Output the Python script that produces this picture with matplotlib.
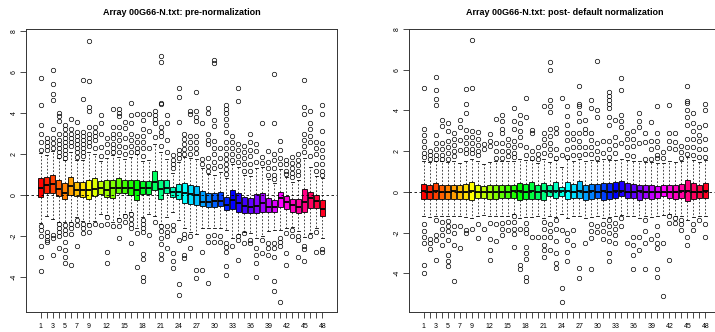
import numpy as np
import matplotlib.pyplot as plt
from matplotlib.colors import hsv_to_rgb

plt.rcParams['font.family'] = ['Liberation Sans', 'DejaVu Sans']

# data (48 arrays each)
# -------------------------------------------------------------------------------------
arrays = np.arange(1, 49)
shown_labels = [1, 3, 5, 7, 9, 12, 15, 18, 21, 24, 27, 30, 33, 36, 39, 42, 45, 48]

pre_q1 = [-0.08, 0.11, 0.11, -0.05, -0.19, 0.0, -0.03, -0.08, -0.21, -0.03, 0.05, -0.08,
          -0.13, 0.08, 0.08, 0.0, -0.24, 0.05, 0.05, 0.24, -0.21, 0.08, -0.08, -0.21,
          -0.37, -0.44, -0.49, -0.53, -0.6, -0.57, -0.53, -0.73, -0.7, -0.81, -0.86, -0.89,
          -0.89, -0.81, -0.81, -0.81, -0.6, -0.7, -0.81, -0.89, -0.81, -0.65, -0.65, -1.0]
pre_med = [0.35, 0.49, 0.54, 0.3, 0.11, 0.44, 0.24, 0.24, 0.27, 0.32, 0.37, 0.27,
           0.35, 0.37, 0.37, 0.37, 0.24, 0.37, 0.37, 0.65, 0.32, 0.37, 0.16, 0.15,
           0.11, 0.03, 0.0, -0.32, -0.32, -0.28, -0.28, -0.49, -0.24, -0.37, -0.53, -0.6,
           -0.53, -0.37, -0.6, -0.6, -0.16, -0.32, -0.49, -0.57, -0.32, -0.16, -0.29, -0.7]
pre_q3 = [0.84, 0.89, 1.0, 0.73, 0.57, 0.86, 0.65, 0.65, 0.76, 0.84, 0.7, 0.73,
          0.73, 0.84, 0.76, 0.76, 0.73, 0.7, 0.7, 1.18, 0.73, 0.76, 0.4, 0.54,
          0.57, 0.49, 0.44, 0.21, 0.08, 0.08, 0.16, -0.08, 0.24, 0.08, -0.08, -0.13,
          0.03, 0.08, -0.16, -0.24, 0.16, -0.05, -0.21, -0.21, 0.29, 0.16, 0.0, -0.26]
pre_lo = [-1.35, -1.0, -1.15, -1.3, -1.3, -1.3, -1.05, -1.25, -1.35, -1.25, -0.9, -0.95,
          -1.3, -1.1, -0.9, -0.8, -1.6, -1.05, -0.9, -1.0, -1.4, -1.05, -0.8, -1.2,
          -1.6, -1.8, -1.9, -1.6, -1.6, -1.6, -1.6, -1.7, -2.1, -1.9, -1.8, -1.85,
          -2.1, -2.0, -1.75, -1.7, -1.7, -1.6, -1.55, -1.75, -2.05, -1.85, -1.6, -2.1]
pre_hi = [2.05, 1.95, 2.15, 1.8, 1.7, 2.1, 1.7, 1.7, 2.1, 2.0, 1.65, 1.8,
          1.95, 1.85, 1.75, 1.85, 2.0, 1.65, 1.7, 2.5, 2.1, 1.75, 1.1, 1.6,
          1.85, 1.8, 1.75, 1.3, 1.05, 1.0, 1.15, 0.85, 1.5, 1.35, 1.0, 0.95,
          1.3, 1.35, 0.8, 0.6, 1.25, 0.9, 0.65, 0.75, 1.8, 1.35, 0.95, 0.85]
pre_out_hi = [
    [5.7, 4.4, 3.4, 3.0, 2.6, 2.2], [2.8, 2.6, 2.4, 2.2],
    [6.1, 5.4, 4.95, 4.65, 3.2, 2.8, 2.55, 2.3], [4.0, 3.85, 3.6, 3.0, 2.7, 2.5, 2.3, 2.1, 1.9],
    [3.4, 3.2, 3.0, 2.8, 2.6, 2.4, 2.2, 2.0, 1.8], [3.7, 3.2, 3.0, 2.8, 2.6, 2.4],
    [3.55, 3.1, 2.9, 2.7, 2.5, 2.3, 2.1, 1.85], [5.6, 4.7, 3.1, 2.9, 2.7, 2.5, 2.3, 2.1, 1.9],
    [7.5, 5.55, 4.3, 4.1, 3.3, 3.0, 2.8, 2.6, 2.4], [3.3, 3.1, 2.9, 2.7, 2.3],
    [3.9, 3.5, 3.0, 2.35, 1.9], [2.8, 2.5, 2.1],
    [4.2, 3.3, 3.0, 2.8, 2.5, 2.3, 2.1], [4.2, 4.0, 3.85, 3.3, 3.0, 2.7, 2.4, 2.1],
    [3.55, 3.25, 2.8, 2.35, 2.0], [4.5, 3.9, 3.5, 3.0, 2.7, 2.4, 2.1],
    [3.95, 2.9, 2.6, 2.3, 2.1], [3.95, 3.65, 3.2, 2.9, 2.6, 2.3, 1.9],
    [3.95, 3.15, 2.3], [4.1, 3.9, 3.7, 3.5, 2.85],
    [6.8, 6.5, 4.5, 4.45, 3.3, 3.1, 2.9, 2.4], [3.9, 3.5, 2.7, 2.1],
    [1.95, 1.7, 1.5, 1.3], [5.2, 4.8, 3.55, 2.2, 2.0, 1.8],
    [3.0, 2.75, 2.5, 2.25, 2.0], [4.1, 3.95, 2.9, 2.6, 2.3, 2.0],
    [5.05, 4.1, 3.8, 3.6, 2.9, 2.6, 2.3, 2.05], [3.5, 1.75, 1.5],
    [4.25, 4.0, 3.0, 2.7, 2.5, 1.8, 1.4, 1.2], [6.6, 6.45, 3.65, 3.35, 2.65, 2.3, 2.0, 1.6, 1.3],
    [2.3, 1.8, 1.4], [4.4, 4.2, 4.0, 3.7, 3.4, 3.1, 2.6, 2.3, 2.0, 1.75, 1.5, 1.25, 1.05],
    [2.9, 2.6, 2.3, 2.0, 1.7], [5.2, 4.6, 2.5, 2.2, 1.9, 1.6],
    [2.4, 2.1, 1.8, 1.5, 1.2], [3.0, 2.6, 2.2, 1.9, 1.5, 1.2],
    [2.5, 2.15, 1.6], [3.5, 1.85, 1.55],
    [2.15, 1.6, 1.3, 1.0], [5.9, 3.5, 2.0, 1.7, 1.3, 1.0, 0.8],
    [2.65, 2.2, 1.8, 1.5], [1.7, 1.5, 1.2, 1.05],
    [1.85, 1.55, 1.3, 1.1, 0.9], [2.0, 1.7, 1.45, 1.2, 1.0],
    [5.6, 4.3, 3.95, 3.0, 2.7, 2.4, 2.1], [4.1, 3.5, 3.2, 2.9, 2.6, 1.9],
    [2.6, 2.3, 2.0, 1.5, 1.2], [4.4, 3.95, 3.15, 2.55, 2.2, 1.85, 1.5, 1.2, 1.0]]
pre_out_lo = [
    [-1.5, -1.7, -2.0, -2.5, -3.0, -3.7], [-1.8, -2.0, -2.2, -2.3], [-1.95, -2.1, -2.9],
    [-1.4, -1.6, -1.8, -2.0, -2.6], [-1.45, -1.7, -1.9, -2.3, -2.7, -3.0, -3.3],
    [-1.4, -1.6, -1.9, -3.4], [-1.2, -1.45, -2.5], [-1.4, -1.6, -1.85], [-1.45, -1.8],
    [-1.4], [-1.45], [-1.05, -1.4, -2.75, -3.3], [-1.5], [-1.2, -1.5, -2.1], [-1.0, -1.3],
    [-0.9, -1.15, -1.4, -1.6, -2.35], [-1.85, -3.5],
    [-1.2, -1.4, -1.6, -1.8, -2.85, -3.1, -4.0, -4.2], [-1.95], [-1.3],
    [-1.5, -1.75, -2.1, -2.4, -2.85, -3.1], [-1.5, -1.8, -2.0, -2.6],
    [-1.45, -1.7, -2.8, -3.2, -3.55], [-2.2, -4.35, -4.85], [-1.9, -2.1, -2.9, -3.05],
    [-2.0, -2.6], [-3.65, -4.05], [-2.75, -3.65], [-2.0, -2.3, -4.3], [-1.95, -2.3],
    [-2.0, -2.3], [-2.35, -2.55, -2.75, -3.45, -3.9], [-2.5], [-2.0, -2.2, -3.15],
    [-1.85, -2.35], [-2.2, -2.35], [-2.6, -2.9, -3.3, -4.0], [-2.2, -2.8],
    [-2.35, -2.6, -2.9], [-2.35, -2.6, -3.0, -4.2, -4.7], [-2.1, -2.3, -2.5, -5.2],
    [-1.85, -2.8, -3.4], [-1.7, -2.0], [-2.0, -2.2, -3.0], [-2.5, -2.65, -3.2],
    [-2.0], [-1.8, -2.75], [-2.65, -2.75]]

post_q1 = [-0.33, -0.33, -0.33, -0.33, -0.33, -0.33, -0.33, -0.33, -0.38, -0.3, -0.3, -0.33,
           -0.33, -0.28, -0.3, -0.3, -0.38, -0.33, -0.35, -0.33, -0.41, -0.22, -0.3, -0.22,
           -0.35, -0.3, -0.3, -0.38, -0.35, -0.3, -0.38, -0.35, -0.3, -0.22, -0.3, -0.3,
           -0.38, -0.3, -0.35, -0.3, -0.22, -0.3, -0.35, -0.3, -0.46, -0.35, -0.3, -0.3]
post_med = [0.02, 0.0, 0.03, -0.01, 0.0, 0.02, 0.0, 0.01, 0.03, 0.0, -0.02, 0.0,
            0.01, 0.0, 0.0, 0.02, 0.03, 0.0, 0.04, 0.0, 0.02, 0.05, 0.03, 0.02,
            0.04, 0.0, 0.03, 0.0, 0.02, 0.0, 0.02, 0.0, 0.03, 0.05, 0.0, 0.0,
            0.02, 0.0, 0.0, 0.0, -0.02, 0.0, 0.0, 0.02, 0.05, 0.0, 0.0, 0.02]
post_q3 = [0.41, 0.36, 0.44, 0.33, 0.36, 0.36, 0.36, 0.41, 0.47, 0.36, 0.28, 0.33,
           0.36, 0.33, 0.33, 0.36, 0.44, 0.41, 0.49, 0.36, 0.44, 0.36, 0.47, 0.24,
           0.47, 0.41, 0.52, 0.36, 0.41, 0.41, 0.44, 0.44, 0.47, 0.52, 0.44, 0.41,
           0.36, 0.36, 0.36, 0.31, 0.33, 0.36, 0.36, 0.41, 0.6, 0.44, 0.36, 0.44]
post_lo = [-1.2, -1.25, -1.2, -1.2, -1.2, -1.2, -1.2, -1.25, -1.3, -1.2, -1.15, -1.2,
           -1.2, -1.2, -1.2, -1.1, -1.3, -1.25, -1.25, -1.2, -1.3, -1.2, -1.25, -1.1,
           -1.3, -1.2, -1.2, -1.3, -1.25, -1.2, -1.3, -1.25, -1.2, -1.15, -1.2, -1.2,
           -1.3, -1.2, -1.25, -1.2, -1.15, -1.1, -1.2, -1.2, -1.4, -1.25, -1.2, -1.2]
post_hi = [1.5, 1.45, 1.5, 1.5, 1.45, 1.5, 1.4, 1.5, 1.6, 1.5, 1.35, 1.45,
           1.5, 1.5, 1.5, 1.5, 1.6, 1.55, 1.55, 1.4, 1.6, 1.45, 1.55, 1.2,
           1.6, 1.5, 1.6, 1.5, 1.55, 1.5, 1.6, 1.55, 1.55, 1.6, 1.55, 1.5,
           1.5, 1.45, 1.45, 1.4, 1.4, 1.5, 1.45, 1.5, 1.7, 1.55, 1.45, 1.55]
post_out_hi = [
    [5.1, 3.1, 2.8, 2.5, 2.2, 1.9, 1.7], [2.0, 1.8, 1.6],
    [5.65, 5.0, 4.55, 4.25, 2.8, 2.4, 2.1, 1.8, 1.6], [3.55, 3.25, 2.4, 2.1, 1.8, 1.6],
    [3.4, 3.0, 2.5, 2.2, 1.9, 1.6], [2.9, 2.6, 2.3, 2.0, 1.75],
    [3.55, 3.2, 2.55, 2.05], [5.05, 4.3, 3.85, 3.05, 2.7, 2.4, 2.1, 1.9],
    [7.45, 5.1, 3.0, 2.7, 2.4, 2.1, 1.9], [2.95, 2.6, 2.3, 2.0, 1.8],
    [2.35, 2.1], [2.85, 2.5, 2.25],
    [3.6, 2.4, 2.0, 1.65], [3.8, 3.5, 3.1, 2.9, 2.4, 2.0, 1.65],
    [2.6, 2.3, 2.0, 1.75], [4.1, 3.5, 3.1, 2.5, 2.2, 1.9, 1.7],
    [3.8, 3.4, 3.0, 2.7, 2.3], [4.6, 3.7, 2.2, 1.8],
    [3.05, 2.9, 2.0, 1.65], [2.2, 1.85, 1.6],
    [4.2, 2.9, 2.6, 2.3, 1.9], [6.4, 6.0, 4.5, 4.2, 3.9, 3.1, 2.75, 2.4, 2.1, 1.8],
    [3.15, 2.9, 2.1, 1.65], [4.6, 1.8],
    [4.2, 3.75, 3.3, 2.9, 2.55, 2.1, 1.7], [2.9, 2.6, 2.2, 1.8],
    [5.2, 4.3, 4.2, 3.85, 3.5, 2.9, 2.5, 2.2, 1.8], [3.55, 3.1, 2.9, 2.2, 1.85],
    [4.5, 4.1, 2.9, 2.55, 2.2, 1.85], [6.45, 4.0, 3.7, 2.4, 2.0, 1.65],
    [2.5, 1.9], [4.9, 4.7, 4.5, 4.3, 4.1, 3.7, 3.3, 2.5, 2.1, 1.7],
    [3.55, 2.7, 2.3, 1.9], [5.6, 5.0, 3.8, 3.5, 3.2, 2.4],
    [2.9, 2.6, 2.2, 1.8], [3.0, 2.6, 2.25, 1.75],
    [3.85, 3.5, 3.2, 2.4], [2.9, 2.45, 1.6],
    [3.45, 2.5, 2.1, 1.6], [4.2, 2.9, 2.5, 2.2, 1.8, 1.65],
    [1.95, 1.65], [4.25, 2.9, 2.5, 2.15],
    [2.9, 2.45, 2.1], [2.25, 1.95, 1.65],
    [5.2, 4.45, 4.35, 4.0, 3.7, 3.3, 2.6, 2.2, 1.85], [3.85, 3.4, 3.0, 2.6, 2.2, 1.8],
    [3.2, 2.8, 2.5, 2.1, 1.7], [4.3, 4.0, 3.3, 2.6, 2.1, 1.7]]
post_out_lo = [
    [-1.6, -1.9, -2.2, -2.5, -3.6, -4.0], [-2.3, -2.5, -2.8], [-1.37, -2.1, -2.35, -3.33],
    [-1.5, -1.8, -2.1, -2.6], [-1.45, -1.7, -1.9, -2.35, -3.1, -3.4, -3.65],
    [-1.7, -2.0, -2.6, -4.4], [-1.7, -2.75], [-1.85, -2.0], [-1.8], [-1.6, -2.25], [-1.8],
    [-1.55, -2.3, -2.85, -3.35], [-1.6, -2.4], [-1.55, -1.8, -2.1], [-1.5, -1.85],
    [-1.2, -1.5, -1.8, -2.05, -2.7], [-1.8, -3.6, -3.8],
    [-1.55, -1.8, -2.0, -2.7, -3.0, -3.3, -4.2, -4.4], [-2.2], [-2.2],
    [-1.5, -1.8, -2.2, -2.6, -2.85, -3.2], [-1.6, -1.9, -2.2, -2.85],
    [-1.4, -1.8, -2.4, -3.0, -3.5, -3.75], [-1.85, -4.7, -5.4], [-2.0, -2.35, -2.95, -3.4],
    [-1.85, -2.6], [-3.75, -4.25], [-2.5], [-1.6, -1.9, -2.25, -3.8], [-1.7, -1.95],
    [-1.6, -1.9, -2.3], [-1.4, -1.7, -2.0, -2.4, -3.0, -3.4], [-1.55, -1.8, -2.1, -2.5],
    [-1.3, -1.7], [-2.5], [-2.2, -2.6, -3.1, -3.8], [-2.2, -2.85], [-1.4, -1.9, -2.5, -3.8],
    [-2.3], [-1.7, -2.1, -2.5, -2.75, -3.8, -4.2], [-2.5, -5.1], [-1.2, -1.55, -3.35],
    [-1.3, -1.55], [-1.4, -1.6, -1.85], [-2.2, -2.6], [-1.6, -1.85], [-1.4], [-1.6, -2.2]]


# helpers
# -------------------------------------------------------------------------------------
colors = [hsv_to_rgb((i / 48, 1, 1)) for i in range(48)]   # R rainbow(48)


def make_stats(q1, med, q3, lo, hi, out_hi, out_lo):
    return [dict(q1=a, med=m, q3=b, whislo=l, whishi=h, fliers=oh + ol)
            for a, m, b, l, h, oh, ol in zip(q1, med, q3, lo, hi, out_hi, out_lo)]


def draw_panel(ax, stats, title, ylim):
    bp = ax.bxp(stats, positions=arrays, widths=0.8, capwidths=0.4, patch_artist=True,
                boxprops=dict(edgecolor='black', linewidth=0.6),
                medianprops=dict(color='black', linewidth=1.3),
                whiskerprops=dict(color='black', linewidth=0.5, linestyle=(0, (2.5, 2.5))),
                capprops=dict(color='black', linewidth=0.6),
                flierprops=dict(marker='o', markersize=3.2, markerfacecolor='none',
                                markeredgecolor='black', markeredgewidth=0.5))
    for patch, c in zip(bp['boxes'], colors):
        patch.set_facecolor(c)

    ax.axhline(0, color='black', linewidth=0.6, linestyle=(0, (3, 3)), zorder=5)

    ax.set_xlim(-1.42, 50.42)
    ax.set_ylim(*ylim)
    ax.set_xticks(arrays)
    ax.set_xticklabels([str(a) if a in shown_labels else '' for a in arrays])
    ax.set_yticks([-4, -2, 0, 2, 4, 6, 8])
    ax.set_yticklabels(['-4', '-2', '0', '2', '4', '6', '8'], rotation=90, va='center')
    ax.tick_params(axis='both', length=4, width=0.5, labelsize=5, pad=2)
    ax.tick_params(axis='x', pad=4)
    for s in ax.spines.values():
        s.set_linewidth(0.7)
        s.set_color('#333333')
    ax.set_title(title, fontsize=6.5, fontweight='bold', pad=10)


# make figure
# -------------------------------------------------------------------------------------
fig = plt.figure(figsize=(7.15, 3.32), dpi=100)
ax1 = fig.add_axes([26 / 715, 20 / 332, 311 / 715, 283 / 332])
ax2 = fig.add_axes([409 / 715, 20 / 332, 311 / 715, 283 / 332])

draw_panel(ax1, make_stats(pre_q1, pre_med, pre_q3, pre_lo, pre_hi, pre_out_hi, pre_out_lo),
           "Array 00G66-N.txt: pre-normalization", (-5.7, 8.1))
draw_panel(ax2, make_stats(post_q1, post_med, post_q3, post_lo, post_hi, post_out_hi, post_out_lo),
           "Array 00G66-N.txt: post- default normalization", (-5.9, 8.0))

fig.savefig("out.png", dpi=100)
